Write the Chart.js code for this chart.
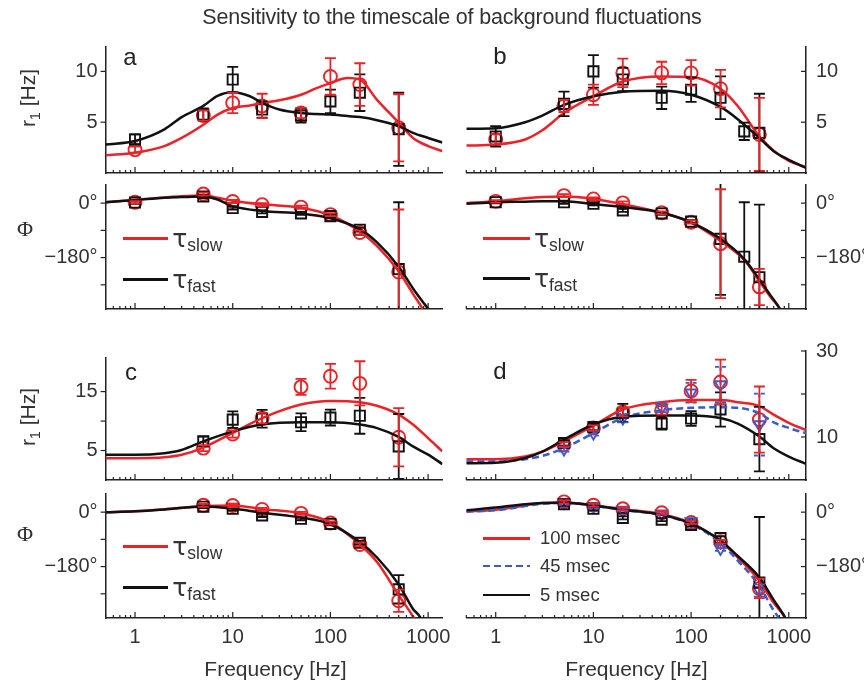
<!DOCTYPE html>
<html><head><meta charset="utf-8">
<script src="https://cdn.jsdelivr.net/npm/chart.js@4.4.1/dist/chart.umd.min.js"></script>
<style>
html,body{margin:0;padding:0;background:#fff;}
#wrap{position:relative;width:864px;height:681px;overflow:hidden;font-family:"Liberation Sans",Arial,sans-serif;color:#333;}
#wrap canvas{position:absolute;left:0;top:0;}
.t{position:absolute;white-space:nowrap;line-height:1;}
</style></head><body><div id="wrap"></div>
<script>
// ---------------- DATA ----------------
// tick labels
const xTickLabels = [1, 10, 100, 1000];
const rateTicksAB = [5, 10];
const rateTicksC = [5, 15];
const rateTicksD = [10, 30];
const phaseTicks = [0, -180];
const phaseTickText = {"0": "0°", "-180": "−180°"};

// ---- panel a ----
const fA = [1, 5, 10, 20, 50, 100, 200, 500];
const aRateFast = [3.3, 5.75, 9.2, 6.25, 5.65, 7.05, 7.9, 4.3];
const aRateFastErr = [0.5, 0.6, 1.25, 0.8, 0.7, 1.15, 1.8, 3.6];
const aRateSlow = [2.3, 5.65, 6.9, 6.6, 5.9, 9.5, 8.7, 4.45];
const aRateSlowErr = [0.3, 0.5, 1.0, 1.2, 0.5, 1.8, 2.1, 3.3];
const aPhaseFast = [2, 22, -16, -29, -34, -43, -88, -218];
const aPhaseFastErr = [4, 5, 5, 5, 5, 5, 6, 221];
const aPhaseSlow = [3, 30, 5.5, -5, -13, -38, -97, -228];
const aPhaseSlowErr = [4, 5, 5, 5, 5, 5, 6, 207];
const fitFA = [0.5, 1, 2, 3, 5, 7, 10, 15, 20, 30, 50, 70, 100, 150, 200, 300, 500, 700, 1000, 1400];
const aFitRateFast = [2.8, 3.15, 4.3, 5.5, 6.6, 7.6, 7.95, 7.55, 6.9, 6.25, 5.9, 5.8, 5.75, 5.6, 5.5, 5.2, 4.6, 3.95, 3.45, 3.0];
const aFitRateSlow = [1.75, 2.0, 2.65, 3.45, 4.75, 5.75, 6.4, 6.65, 6.9, 7.15, 7.7, 8.3, 8.85, 9.35, 9.2, 7.2, 4.95, 3.45, 2.65, 2.15];
const fitPhA = [0.5, 1, 2, 3, 5, 7, 10, 20, 50, 100, 200, 300, 500, 700, 900, 1000, 1200];
const aFitPhaseSlow = [3, 11, 19, 23, 25, 18, 8, -4, -15, -40, -94, -142, -225, -300, -355, -385, -440];
const aFitPhaseFast = [3, 10, 18, 20, 22, 12, -10, -26, -34, -50, -86, -130, -210, -282, -330, -350, -400];

// ---- panel b ----
const fBfast = [1, 5, 10, 20, 50, 100, 200, 350, 500];
const fBslow = [1, 5, 10, 20, 50, 100, 200, 500];
const bRateFast = [3.6, 6.8, 10.0, 9.2, 7.4, 8.2, 7.4, 4.1, 3.95];
const bRateFastErr = [1.0, 1.2, 1.6, 1.15, 1.1, 1.2, 2.1, 0.85, 3.85];
const bRateSlow = [3.3, 6.6, 7.7, 9.85, 9.85, 9.85, 8.3, 3.8];
const bRateSlowErr = [0.5, 0.6, 1.0, 1.4, 1.1, 1.25, 1.85, 3.6];
const bPhaseFast = [3, 3, -2, -24, -34, -61, -118, -177, -245];
const bPhaseFastErr = [4, 5, 5, 5, 5, 5, 185, 180, 240];
const bPhaseSlow = [6, 25, 14, 1, -32, -63, -134, -277];
const bPhaseSlowErr = [4, 5, 5, 5, 5, 5, 180, 60];
const fitFB = [0.5, 1, 2, 3, 5, 10, 20, 50, 100, 200, 300, 500, 700, 1000, 1500];
const bFitRateFast = [4.35, 4.4, 5.0, 5.65, 6.7, 7.55, 8.0, 8.1, 7.7, 6.5, 5.3, 3.45, 2.15, 1.3, 0.5];
const bFitRateSlow = [2.7, 2.8, 3.3, 4.2, 5.9, 7.55, 9.0, 9.5, 9.45, 8.3, 6.6, 3.6, 2.2, 1.2, 0.6];
const fitPhB = [0.5, 1, 2, 3, 5, 10, 20, 50, 100, 200, 350, 500, 650, 813, 900];
const bFitPhaseSlow = [0, 6, 16, 20, 22, 14, -3, -32, -64, -125, -188, -258, -310, -350, -380];
const bFitPhaseFast = [-2, 3, 5, 6, 6, -3, -13, -32, -64, -118, -185, -252, -305, -350, -380];

// ---- panel c ----
const fC = [5, 10, 20, 50, 100, 200, 500];
const cRateFast = [6.55, 10.25, 10.4, 9.8, 10.6, 10.9, 5.7];
const cRateFastErr = [0.8, 1.4, 1.5, 1.5, 1.35, 3.05, 5.5];
const cRateSlow = [5.4, 7.8, 10.5, 15.8, 17.6, 16.4, 7.25];
const cRateSlowErr = [0.5, 0.6, 0.9, 1.35, 2.1, 3.75, 4.95];
const cPhaseFast = [18, 11, -11, -22, -39, -101, -255];
const cPhaseFastErr = [5, 5, 5, 5, 5, 6, 47];
const cPhaseSlow = [22.6, 22, 9, -4, -36, -107, -293];
const cPhaseSlowErr = [5, 5, 5, 5, 5, 6, 37];
const fitFC = [0.5, 1, 2, 3, 5, 10, 20, 50, 100, 200, 300, 500, 700, 1000, 1400];
const cFitRateFast = [4.27, 4.27, 4.55, 5.1, 6.55, 8.25, 9.4, 9.8, 9.8, 9.4, 8.8, 7.3, 5.7, 4.3, 2.7];
const cFitRateSlow = [3.7, 3.7, 3.85, 4.27, 5.5, 8.0, 10.5, 12.8, 13.4, 13.2, 12.6, 11.1, 9.4, 7.1, 4.85];
const fitPhC = [0.5, 1, 2, 5, 10, 20, 50, 100, 200, 300, 500, 700, 840, 900];
const cFitPhaseSlow = [0, 3, 9, 20, 22, 10, -4, -34, -107, -165, -275, -345, -390, -410];
const cFitPhaseFast = [0, 3, 9, 19, 12, -2, -18, -40, -99, -150, -239, -320, -350, -375];

// ---- panel d ----
const fD = [5, 10, 20, 50, 100, 200, 500];
const dRate5 = [8.6, 12.3, 15.6, 13.1, 14.3, 16.4, 9.5];
const dRate5Err = [0.6, 0.8, 2.1, 1.4, 1.7, 4.0, 7.5];
const dRate100 = [8.2, 12.1, 15.8, 16.2, 20.7, 22.8, 14.05];
const dRate100Err = [0.6, 0.6, 1.0, 1.0, 2.6, 5.2, 7.7];
const dRate45 = [7.2, 10.9, 14.4, 16.8, 20.3, 22.2, 12.9];
const dRate45Err = [0.6, 0.6, 1.0, 1.0, 2.3, 4.1, 7.2];
const dPhase5 = [26, 11, -19, -25, -42, -86, -233];
const dPhase5Err = [5, 5, 5, 5, 5, 6, 217];
const dPhase100 = [34, 23, 11, -2, -34, -98, -252];
const dPhase100Err = [5, 5, 5, 5, 5, 6, 32];
const dPhase45 = [32, 20, 7, -5, -31, -120, -259];
const dPhase45Err = [8, 8, 5, 5, 8, 8, 20];
const fitFD = [0.5, 1, 2, 3, 5, 10, 20, 50, 100, 200, 300, 500, 700, 1000, 1500];
const dFitRate5 = [3.9, 4.0, 5.1, 6.6, 9.4, 12.9, 14.7, 15.0, 15.0, 14.4, 13.1, 10.1, 7.4, 5.45, 3.75];
const dFitRate100 = [4.85, 4.85, 5.45, 6.6, 9.0, 12.65, 16.4, 18.1, 18.6, 18.6, 18.1, 17.2, 15.2, 13.3, 11.6];
const dFitRate45 = [4.3, 4.3, 4.85, 5.6, 7.4, 10.9, 14.45, 16.2, 16.8, 16.9, 16.8, 15.5, 13.4, 12.1, 10.9];
const fitPhD = [0.5, 1, 2, 3, 5, 10, 20, 50, 100, 200, 300, 500, 700, 923, 1000];
const dFitPhase100 = [2, 8, 22, 30, 32, 23, 10, -7, -36, -96, -150, -227, -300, -350, -375];
const dFitPhase5 = [6, 15, 26, 30, 31, 22, 8, -9, -38, -94, -145, -216, -290, -350, -372];
const dFitPhase45 = [2, 6, 20, 28, 31, 21, 8, -10, -40, -102, -160, -244, -325, -380, -400];

// ---------------- STYLE ----------------
const RED = '#ec2227', BLACK = '#111111', BLUE = '#3b5bc8';
const TXT = '#333333';
const FONT = '"Liberation Sans", Arial, sans-serif';

function pts(xs, ys) { return xs.map((x, i) => ({x: x, y: ys[i]})); }
function curve(xs, ys, color, dash) {
  return {data: pts(xs, ys), borderColor: color, borderWidth: 2.5, pointRadius: 0,
    borderDash: dash || [], cubicInterpolationMode: 'monotone', fill: false, order: 0};
}
function marks(xs, ys, err, color, style, rot, dash) {
  return {data: pts(xs, ys), errors: err, errDash: dash || [], showLine: false,
    borderColor: color, backgroundColor: 'rgba(0,0,0,0)', pointStyle: style, pointRotation: rot || 0,
    pointRadius: style === 'rect' ? 7.2 : 6.5, pointBorderWidth: 1.9, pointBorderColor: color,
    pointBackgroundColor: 'rgba(0,0,0,0)', order: 1};
}

const errorBars = {
  id: 'errorBars',
  afterDatasetsDraw(chart) {
    const ctx = chart.ctx, a = chart.chartArea, xs = chart.scales.x, ys = chart.scales.y;
    ctx.save();
    ctx.beginPath(); ctx.rect(a.left - 7, a.top - 1, a.right - a.left + 14, a.bottom - a.top + 1); ctx.clip();
    chart.data.datasets.forEach(ds => {
      if (!ds.errors) return;
      ctx.strokeStyle = ds.borderColor; ctx.lineWidth = 1.8; ctx.setLineDash(ds.errDash);
      ds.data.forEach((p, j) => {
        const e = ds.errors[j];
        const px = xs.getPixelForValue(p.x);
        const y1 = ys.getPixelForValue(p.y + e), y2 = ys.getPixelForValue(p.y - e);
        ctx.beginPath();
        ctx.moveTo(px, y1); ctx.lineTo(px, y2);
        ctx.moveTo(px - 5.5, y1); ctx.lineTo(px + 5.5, y1);
        ctx.moveTo(px - 5.5, y2); ctx.lineTo(px + 5.5, y2);
        ctx.stroke();
      });
    });
    ctx.restore();
  }
};
const axisDeco = {
  id: 'axisDeco',
  afterDraw(chart, args, o) {
    const ctx = chart.ctx, a = chart.chartArea, xs = chart.scales.x, ys = chart.scales.y;
    ctx.save(); ctx.strokeStyle = '#222'; ctx.lineWidth = 1.2;
    for (let d = -1; d <= 3; d++) for (let m = 1; m <= 9; m++) {
      const v = m * Math.pow(10, d);
      if (v < xs.min || v > xs.max) continue;
      const px = xs.getPixelForValue(v), len = m === 1 ? 6 : 3;
      ctx.beginPath(); ctx.moveTo(px, a.bottom); ctx.lineTo(px, a.bottom - len); ctx.stroke();
    }
    (o.yTicks || []).forEach(v => {
      const py = ys.getPixelForValue(v), x0 = o.side === 'right' ? a.right : a.left;
      ctx.beginPath(); ctx.moveTo(x0, py); ctx.lineTo(x0 - 5, py); ctx.stroke();
    });
    ctx.restore();
  }
};
Chart.register(errorBars, axisDeco);

const wrap = document.getElementById('wrap');
const WY_LEFT = 100, WY_RIGHT = 58, HX = 40;
function panel(p) {
  const c = document.createElement('canvas');
  c.width = 864; c.height = 681; c.style.width = '864px'; c.style.height = '681px';
  wrap.appendChild(c);
  const right = p.side === 'right';
  const wy = right ? WY_RIGHT : WY_LEFT;
  const hx = p.xLabels ? HX : 0;
  new Chart(c, {
    type: 'line',
    data: {datasets: p.datasets},
    options: {
      responsive: false, animation: false, events: [],
      layout: {padding: {
        left: right ? p.L : p.L - wy,
        right: right ? Math.max(0, 864 - p.R - wy) : 864 - p.R,
        top: p.T, bottom: 681 - p.B - hx}},
      plugins: {legend: {display: false}, tooltip: {enabled: false},
        axisDeco: {yTicks: p.yMarks, side: p.side}},
      scales: {
        x: {type: 'logarithmic', min: p.xmin, max: p.xmax, bounds: 'data', position: 'bottom',
          grid: {display: false, drawTicks: false},
          border: {display: true, color: '#222', width: 1.5},
          ticks: {display: !!p.xLabels, autoSkip: false, maxRotation: 0, padding: 7,
            color: TXT, font: {family: FONT, size: 20}, callback: v => String(v)},
          afterBuildTicks: s => { s.ticks = xTickLabels.map(v => ({value: v})); },
          afterFit: s => { s.height = hx; s.paddingLeft = 0; s.paddingRight = 0; s.paddingTop = 0; s.paddingBottom = 0; }},
        y: {type: 'linear', min: p.ymin, max: p.ymax, bounds: 'data', position: p.side,
          grid: {display: false, drawTicks: false},
          border: {display: true, color: '#222', width: 1.5},
          ticks: {autoSkip: false, padding: right ? 10 : 8, color: TXT, font: {family: FONT, size: 20},
            callback: p.fmt || (v => String(v))},
          afterBuildTicks: s => { s.ticks = p.yTicks.map(v => ({value: v})); },
          afterFit: s => { s.width = wy; s.paddingLeft = 0; s.paddingRight = 0; s.paddingTop = 0; s.paddingBottom = 0; }}
      }
    }
  });
}
const phFmt = v => phaseTickText[String(v)] || '';
const LC = {L: 105.6, R: 442.4, xmin: 0.5, xmax: 1400, side: 'left'};
const RC = {L: 466.3, R: 806, xmin: 0.5, xmax: 1500, side: 'right'};
const PH = {ymin: -350, ymax: 60, yTicks: phaseTicks, yMarks: [0, -90, -180, -270], fmt: phFmt};

// panel a
panel(Object.assign({}, LC, {T: 47, B: 173, ymin: 0, ymax: 12.4, yTicks: rateTicksAB, yMarks: [5, 10],
  datasets: [curve(fitFA, aFitRateFast, BLACK), curve(fitFA, aFitRateSlow, RED),
    marks(fA, aRateFast, aRateFastErr, BLACK, 'rect'), marks(fA, aRateSlow, aRateSlowErr, RED, 'circle')]}));
panel(Object.assign({}, LC, PH, {T: 185, B: 309,
  datasets: [curve(fitPhA, aFitPhaseFast, BLACK), curve(fitPhA, aFitPhaseSlow, RED),
    marks(fA, aPhaseFast, aPhaseFastErr, BLACK, 'rect'), marks(fA, aPhaseSlow, aPhaseSlowErr, RED, 'circle')]}));
// panel b
panel(Object.assign({}, RC, {T: 47, B: 173, ymin: 0, ymax: 12.4, yTicks: rateTicksAB, yMarks: [5, 10],
  datasets: [curve(fitFB, bFitRateFast, BLACK), curve(fitFB, bFitRateSlow, RED),
    marks(fBfast, bRateFast, bRateFastErr, BLACK, 'rect'), marks(fBslow, bRateSlow, bRateSlowErr, RED, 'circle')]}));
panel(Object.assign({}, RC, PH, {T: 185, B: 309,
  datasets: [curve(fitPhB, bFitPhaseFast, BLACK), curve(fitPhB, bFitPhaseSlow, RED),
    marks(fBfast, bPhaseFast, bPhaseFastErr, BLACK, 'rect'), marks(fBslow, bPhaseSlow, bPhaseSlowErr, RED, 'circle')]}));
// panel c
panel(Object.assign({}, LC, {T: 358, B: 480, ymin: 0, ymax: 20.7, yTicks: rateTicksC, yMarks: [5, 10, 15],
  datasets: [curve(fitFC, cFitRateFast, BLACK), curve(fitFC, cFitRateSlow, RED),
    marks(fC, cRateFast, cRateFastErr, BLACK, 'rect'), marks(fC, cRateSlow, cRateSlowErr, RED, 'circle')]}));
panel(Object.assign({}, LC, PH, {T: 494, B: 618, xLabels: true,
  datasets: [curve(fitPhC, cFitPhaseFast, BLACK), curve(fitPhC, cFitPhaseSlow, RED),
    marks(fC, cPhaseFast, cPhaseFastErr, BLACK, 'rect'), marks(fC, cPhaseSlow, cPhaseSlowErr, RED, 'circle')]}));
// panel d
panel(Object.assign({}, RC, {T: 351, B: 480, ymin: 0, ymax: 30, yTicks: rateTicksD, yMarks: [10, 20, 30],
  datasets: [curve(fitFD, dFitRate5, BLACK), curve(fitFD, dFitRate45, BLUE, [7, 4]), curve(fitFD, dFitRate100, RED),
    marks(fD, dRate5, dRate5Err, BLACK, 'rect'), marks(fD, dRate45, dRate45Err, BLUE, 'triangle', 180, [4, 3]),
    marks(fD, dRate100, dRate100Err, RED, 'circle')]}));
panel(Object.assign({}, RC, PH, {T: 494, B: 618, xLabels: true,
  datasets: [curve(fitPhD, dFitPhase5, BLACK), curve(fitPhD, dFitPhase45, BLUE, [7, 4]), curve(fitPhD, dFitPhase100, RED),
    marks(fD, dPhase5, dPhase5Err, BLACK, 'rect'), marks(fD, dPhase45, dPhase45Err, BLUE, 'triangle', 180, [4, 3]),
    marks(fD, dPhase100, dPhase100Err, RED, 'circle')]}));

// ---------------- TEXT OVERLAYS ----------------
function place(html, x, base, size, extra) {
  const d = document.createElement('div');
  d.className = 't'; d.innerHTML = html;
  d.style.left = x + 'px'; d.style.top = (base - 0.846 * size) + 'px';
  d.style.fontSize = size + 'px';
  if (extra) Object.assign(d.style, extra);
  wrap.appendChild(d); return d;
}
function centered(html, cx, cy, size, extra) {
  const d = document.createElement('div');
  d.className = 't'; d.innerHTML = html;
  d.style.left = cx + 'px'; d.style.top = cy + 'px'; d.style.fontSize = size + 'px';
  d.style.transform = 'translate(-50%,-50%)' + (extra && extra.rot ? ' rotate(' + extra.rot + 'deg)' : '');
  if (extra && extra.style) Object.assign(d.style, extra.style);
  wrap.appendChild(d); return d;
}
function hline(x1, x2, y, color, dashed) {
  const d = document.createElement('div');
  d.style.position = 'absolute'; d.style.left = x1 + 'px'; d.style.width = (x2 - x1) + 'px';
  d.style.top = (y - 1.25) + 'px'; d.style.height = '2.5px';
  d.style.background = dashed ? 'repeating-linear-gradient(to right,' + color + ' 0 7px,transparent 7px 11px)' : color;
  wrap.appendChild(d);
}

centered('Sensitivity to the timescale of background fluctuations', 452, 18, 21.5, {style: {letterSpacing: '-0.2px'}});
centered('a', 130, 57, 24, {style: {color: '#222'}});
centered('b', 500, 56, 24, {style: {color: '#222'}});
centered('c', 131, 372, 24, {style: {color: '#222'}});
centered('d', 500, 371, 24, {style: {color: '#222'}});
const yTitle = 'r<span style="font-size:14px;position:relative;top:5px">1</span> [Hz]';
centered(yTitle, 27, 98, 21, {rot: -90});
centered(yTitle, 27, 417, 21, {rot: -90});
centered('Φ', 25, 229, 22, {style: {fontFamily: '"Liberation Serif", serif'}});
centered('Φ', 25, 534, 22, {style: {fontFamily: '"Liberation Serif", serif'}});
centered('Frequency [Hz]', 275.5, 668, 21);
centered('Frequency [Hz]', 636.5, 668, 21);

const TAU = {fontFamily: '"DejaVu Sans", sans-serif'};
function tauLegend(x1, x2, ySlow, yFast) {
  hline(x1, x2, ySlow, RED); hline(x1, x2, yFast, BLACK);
  place('τ', x2 + 4, ySlow + 8.7, 25, TAU); place('slow', x2 + 19, ySlow + 13.4, 17.5);
  place('τ', x2 + 4, yFast + 8.7, 25, TAU); place('fast', x2 + 19, yFast + 13.4, 17.5);
}
tauLegend(122.7, 168.3, 238.3, 279.3);
tauLegend(482.7, 530, 238.3, 278.3);
tauLegend(122.7, 168.3, 546.7, 587.3);
hline(482.7, 530, 538.3, RED); place('100 msec', 540, 545, 18.5);
hline(482.7, 530, 566, BLUE, true); place('45 msec', 540, 572.7, 18.5);
hline(482.7, 530, 595, BLACK); place('5 msec', 540, 601.7, 18.5);
</script></body></html>
